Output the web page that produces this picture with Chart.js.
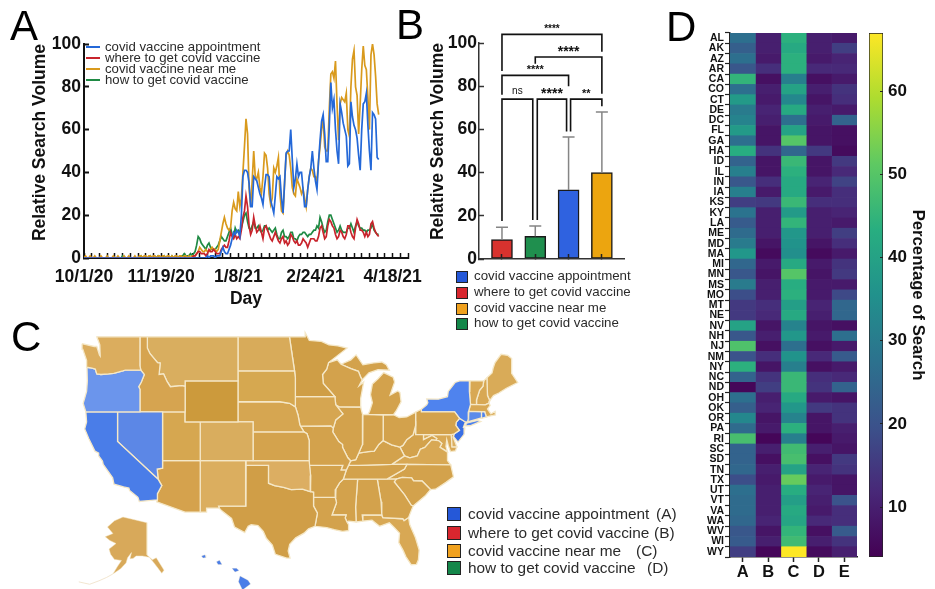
<!DOCTYPE html>
<html lang="en">
<head>
<meta charset="UTF-8">
<title>Covid vaccine search volume</title>
<script src="https://cdn.jsdelivr.net/npm/chart.js@4/dist/chart.umd.js"></script>
<style>
  body { margin: 0; background: #fff; font-family: "Liberation Sans", Arial, sans-serif; }
  #page { position: relative; width: 935px; height: 589px; overflow: hidden; }
  canvas { position: absolute; }
  .letter { position: absolute; font-size: 42px; line-height: 42px; color: #000; }
  .txt { position: absolute; white-space: nowrap; color: #2b2b2b; line-height: 14px; }
  .sw { position: absolute; border: 1px solid #222; box-sizing: border-box; }
  .ln { position: absolute; height: 2px; }
</style>
</head>
<body>
<div id="page">
  <canvas id="chartA" width="430" height="290" style="left:0;top:20px"></canvas>
  <canvas id="chartB" width="215" height="255" style="left:420px;top:10px"></canvas>
  <canvas id="chartC" width="560" height="269" style="left:0;top:320px"></canvas>
  <canvas id="chartD" width="195" height="560" style="left:670px;top:20px"></canvas>
  <canvas id="chartBar" width="75" height="560" style="left:860px;top:20px"></canvas>

  <div class="letter" style="left:10px;top:5px">A</div>
  <div class="letter" style="left:396px;top:4px">B</div>
  <div class="letter" style="left:11px;top:316px">C</div>
  <div class="letter" style="left:666px;top:6px">D</div>

  <div id="legends"></div>
</div>

<script>
// Panel A: daily relative search volume, one value per day from 10/1/20
const blueSeries = [
  0,0,0,0,0,0,0,0,0,0, 0,0,0,0,0,0,0,0,0,0, 0,0,0,0,0,0,0,0,0,0, 0,0,0,0,0,0,0,0,0,0,
  0,0,0,0,0,0,0,0,0,0, 0,0,0,0,0,0,0,0,0,0, 0,0,0,0,0,0,0,0,0,0, 0,0,0,0,0,0,0,0,0,0,
  1,0,1,1,1,0,1,1,1,3, 5,3,2,2,4,6,9,12,11,13, 12,10,20,38,41,41,40,35,24,24,
  38,37,36,33,30,28,25,33,39,39, 38,27,24,21,29,38,37,38,28,21,
  35,49,50,50,60,46,33,37,44,38, 40,40,32,24,24,32,38,42,50,42,
  36,32,45,55,64,67,58,45,45,62, 82,70,74,60,50,44,72,68,63,60,
  57,43,44,73,66,62,60,56,48,41, 60,72,73,77,62,50,41,68,67,65, 47,46];
const redSeries = [
  0,0,0,0,0,0,0,0,0,0, 0,0,0,0,0,0,0,0,0,0, 0,0,0,0,0,0,0,0,0,0, 0,0,0,0,0,0,0,0,0,0,
  0,0,0,0,0,0,0,0,0,0, 0,0,0,0,0,0,0,0,0,0, 0,0,0,0,0,0,0,0,0,0, 0,1,1,2,3,3,2,2,2,1,
  2,4,3,3,4,3,2,2,2,4, 5,6,5,5,8,12,10,9,11,9, 10,9,13,19,22,29,24,15,11,13,
  19,15,12,13,15,12,9,14,15,13, 11,9,8,10,12,10,8,7,9,10,
  7,8,6,7,11,10,8,7,8,6, 6,7,9,8,7,5,7,9,9,9,
  8,8,10,14,15,12,9,10,15,18, 17,15,14,11,9,10,13,12,10,9,
  11,15,15,12,10,9,14,18,16,13, 13,12,10,12,10,11,16,17,14,12, 11,10];
const orangeSeries = [
  0,1,0,0,1,0,0,1,0,0, 0,1,0,0,0,1,0,0,0,1, 0,0,1,0,0,0,1,0,0,1, 0,0,0,1,0,0,1,1,0,1,
  1,0,1,1,0,1,1,0,1,1, 0,1,1,0,1,1,0,1,0,1, 1,0,1,1,0,1,1,0,1,0, 1,1,1,2,3,5,4,3,3,4,
  3,3,4,5,4,4,3,4,8,12, 16,19,16,14,13,14,22,26,23,22, 31,24,28,40,52,65,58,33,24,36,
  50,38,37,40,33,30,38,49,48,42, 30,25,28,42,40,43,47,30,22,21,
  35,48,50,48,42,33,30,29,37,35, 33,30,32,28,24,32,38,42,41,38,
  38,36,45,52,60,65,52,50,50,70, 86,87,84,92,72,55,72,75,74,73,
  77,60,57,80,93,97,80,76,58,72, 88,99,90,88,75,60,95,100,95,85, 72,67];
const greenSeries = [
  0,0,0,0,0,0,0,0,0,0, 0,0,0,0,0,0,0,0,0,0, 0,0,0,0,0,1,0,0,0,0, 0,0,0,0,0,0,0,1,0,0,
  0,0,0,1,0,0,0,0,1,0, 0,0,1,0,0,0,0,1,0,0, 0,0,1,1,1,2,1,1,1,2, 1,2,3,6,10,9,7,6,5,4,
  6,7,5,4,4,4,5,6,8,10, 9,8,8,10,12,14,11,10,14,12, 13,12,14,17,20,21,17,14,13,15,
  17,14,14,15,13,12,13,15,15,13, 14,13,12,13,14,11,9,9,12,13,
  10,10,9,10,12,12,9,9,8,10, 11,11,12,12,11,10,11,11,12,13,
  13,15,14,19,17,14,12,13,17,20, 20,18,16,14,12,13,15,13,12,12,
  12,14,14,16,14,12,15,17,15,14, 14,13,13,12,13,13,14,16,13,12, 11,11];
const dayLabels = { 0: '10/1/20', 50: '11/19/20', 100: '1/8/21', 150: '2/24/21', 200: '4/18/21' };
const seriesNames = ['covid vaccine appointment', 'where to get covid vaccine', 'covid vaccine near me', 'how to get covid vaccine'];

// Panel B: bars, upper error and significance brackets
const barValues = [9, 10.5, 32, 40];
const barErrors = [14.7, 15.3, 56.5, 68];
// from bar, to bar, level, left drop, right drop, label
const brackets = [
  [0, 3, 104, 87, 96, '****'],
  [1, 3, 93.5, 90.4, 76.5, '****'],
  [0, 2, 85, 76, 80, '****'],
  [0, 1, 74, 17.6, 18, 'ns'],
  [1, 2, 74, 18, 59, '****'],
  [2, 3, 74, 59, 70.7, '**']
];

// Panel C: state outlines as lon/lat
const WA = [[-124.7,48.4],[-123.1,48.15],[-122.75,48.15],[-122.4,47.4],[-122.3,47.3],[-122.35,48.3],[-122.75,49],[-117.03,49],[-117.04,46.42],[-116.92,46],[-118.98,46],[-119.3,45.93],[-120.5,45.7],[-121.2,45.65],[-122.2,45.6],[-122.75,45.65],[-122.95,46.1],[-123.4,46.2],[-124.05,46.27],[-124.1,46.9],[-124.6,47.9]];
const OR = [[-124.05,46.27],[-123.4,46.2],[-122.95,46.1],[-122.75,45.65],[-122.2,45.6],[-121.2,45.65],[-120.5,45.7],[-119.3,45.93],[-118.98,46],[-116.92,46],[-116.46,45.6],[-116.85,44.9],[-117.2,44.45],[-117.03,44.2],[-117.03,42],[-124.2,42],[-124.55,42.84],[-124.1,44],[-124,45]];
const CA = [[-124.2,42],[-120,42],[-120,39],[-114.63,35],[-114.14,34.3],[-114.72,33.4],[-114.72,32.72],[-117.12,32.53],[-117.3,33],[-118.4,33.74],[-118.5,34.03],[-119.2,34.15],[-120.47,34.45],[-120.65,35.15],[-121.9,36.6],[-122,36.95],[-122.5,37.5],[-122.5,37.8],[-123,38],[-123.8,39.3],[-124.35,40.3],[-124.1,41]];
const NV = [[-120,42],[-114.04,42],[-114.04,36.2],[-114.75,36.1],[-114.63,35],[-120,39]];
const ID = [[-117.03,49],[-116.05,49],[-116.05,48],[-115.7,47.5],[-114.7,46.7],[-114.35,46.65],[-114.5,45.6],[-113.9,45.65],[-113.45,44.95],[-113,44.45],[-111.5,44.55],[-111.05,44.48],[-111.05,42],[-117.03,42],[-117.03,44.2],[-117.2,44.45],[-116.85,44.9],[-116.46,45.6],[-116.92,46],[-117.04,46.42]];
const MT = [[-116.05,49],[-104.05,49],[-104.05,45],[-111.05,45],[-111.05,44.48],[-111.5,44.55],[-113,44.45],[-113.45,44.95],[-113.9,45.65],[-114.5,45.6],[-114.35,46.65],[-114.7,46.7],[-115.7,47.5],[-116.05,48]];
const WY = [[-111.05,45],[-104.05,45],[-104.05,41],[-111.05,41]];
const UT = [[-114.04,42],[-111.05,42],[-111.05,41],[-109.05,41],[-109.05,37],[-114.04,37]];
const CO = [[-109.05,41],[-102.05,41],[-102.05,37],[-109.05,37]];
const AZ = [[-114.04,37],[-109.05,37],[-109.05,31.33],[-111.07,31.33],[-114.81,32.5],[-114.72,32.72],[-114.72,33.4],[-114.14,34.3],[-114.63,35],[-114.75,36.1],[-114.04,36.2]];
const NM = [[-109.05,37],[-103,37],[-103.04,32],[-106.62,32],[-106.53,31.78],[-108.21,31.78],[-108.21,31.33],[-109.05,31.33]];
const ND = [[-104.05,49],[-97.23,49],[-96.56,45.94],[-104.05,45.94]];
const SD = [[-104.05,45.94],[-96.56,45.94],[-96.45,45.3],[-96.45,43.5],[-96.44,42.5],[-97.2,42.85],[-98.5,43],[-104.05,43]];
const NE = [[-104.05,43],[-98.5,43],[-97.2,42.85],[-96.44,42.5],[-96.1,41.7],[-95.85,40.7],[-95.31,40],[-102.05,40],[-102.05,41],[-104.05,41]];
const KS = [[-102.05,40],[-95.31,40],[-94.9,39.8],[-94.61,39.11],[-94.62,37],[-102.04,37]];
const OK = [[-103,37],[-94.62,37],[-94.43,35.4],[-94.48,33.64],[-95.5,33.9],[-97,33.85],[-98,34.1],[-99.2,34.3],[-100,34.56],[-100,36.5],[-103,36.5]];
const TX = [[-106.62,32],[-103.04,32],[-103,36.5],[-100,36.5],[-100,34.56],[-99.2,34.3],[-98,34.1],[-97,33.85],[-95.5,33.9],[-94.48,33.64],[-94.04,33.55],[-94.04,32],[-93.53,31.2],[-93.85,29.7],[-94.7,29.4],[-95.3,28.9],[-96.4,28.35],[-97.2,27.6],[-97.4,26.8],[-97.15,25.96],[-97.6,25.95],[-99.1,26.4],[-99.5,27.5],[-100.3,28.3],[-100.7,29.1],[-101.4,29.77],[-102.3,29.88],[-102.7,29.7],[-103.15,28.97],[-104.5,29.6],[-104.9,30.6],[-106.2,31.47],[-106.53,31.78]];
const MN = [[-97.23,49],[-95.15,49],[-95.15,49.38],[-94.6,48.7],[-93,48.6],[-92,48.3],[-90.8,48.2],[-89.6,48],[-92.05,46.7],[-92.3,46.1],[-92.85,45.6],[-92.75,44.75],[-91.22,43.5],[-96.45,43.5],[-96.45,45.3],[-96.56,45.94]];
const IA = [[-96.45,43.5],[-91.22,43.5],[-91.1,42.7],[-90.15,41.8],[-91.1,41.2],[-91.42,40.38],[-91.73,40.61],[-95.77,40.58],[-95.85,40.7],[-96.1,41.7],[-96.44,42.5]];
const MO = [[-95.77,40.58],[-91.73,40.61],[-91.42,40.38],[-91.5,40],[-90.7,39],[-90.2,38.7],[-90.2,38.4],[-89.5,37.3],[-89.13,36.98],[-89.4,36.5],[-89.7,36],[-90.37,36],[-90.15,36.5],[-94.62,36.5],[-94.61,39.11],[-94.9,39.8],[-95.31,40]];
const AR = [[-94.62,36.5],[-90.15,36.5],[-90.37,36],[-89.7,36],[-90.1,35],[-90.6,34.6],[-91.1,33.9],[-91.17,33],[-94.04,33.02],[-94.04,33.55],[-94.48,33.64],[-94.43,35.4]];
const LA = [[-94.04,33.02],[-91.17,33],[-91,32.4],[-91.6,31],[-89.73,31],[-89.85,30.65],[-89.6,30.18],[-89.4,29.9],[-89.4,29.2],[-90.2,29.1],[-91.3,29.3],[-92.3,29.55],[-93.85,29.7],[-93.53,31.2],[-94.04,32]];
const WI = [[-92.05,46.7],[-90.9,46.95],[-90.4,46.55],[-89.1,46.14],[-88.1,45.9],[-87.8,45.35],[-87.6,45.1],[-88,44.55],[-87.4,44.9],[-87.55,44.3],[-87.8,43.3],[-87.8,42.49],[-90.64,42.51],[-91.1,42.7],[-91.22,43.5],[-92.75,44.75],[-92.85,45.6],[-92.3,46.1]];
const IL = [[-90.64,42.51],[-87.8,42.49],[-87.53,41.7],[-87.53,39.35],[-87.6,38.7],[-88.05,37.8],[-88.45,37.1],[-89.13,36.98],[-89.5,37.3],[-90.2,38.4],[-90.2,38.7],[-90.7,39],[-91.5,40],[-91.42,40.38],[-91.1,41.2],[-90.15,41.8],[-91.1,42.7]];
const MI_LOWER = [[-86.82,41.76],[-84.8,41.72],[-83.45,41.73],[-83.1,42.1],[-82.45,43],[-82.6,43.9],[-82.9,44.05],[-83.9,43.65],[-83.3,44.9],[-83.5,45.35],[-84.75,45.78],[-85.5,45.2],[-86.25,44.7],[-86.5,43.7],[-86.25,42.9],[-86.6,42.1]];
const MI_UPPER = [[-90.4,46.55],[-89.1,46.95],[-88.4,47.4],[-87.5,46.5],[-86.1,46.67],[-85,46.75],[-84.4,46.5],[-84,46],[-85.5,46.05],[-86.7,45.75],[-87.6,45.1],[-87.8,45.35],[-88.1,45.9],[-89.1,46.14]];
const IN = [[-87.53,41.7],[-87.2,41.76],[-84.8,41.72],[-84.82,39.1],[-85.4,38.7],[-86,38],[-86.8,37.95],[-88.05,37.8],[-87.6,38.7],[-87.53,39.35]];
const OH = [[-84.8,41.72],[-83.45,41.73],[-82.7,41.45],[-81.7,41.5],[-80.52,41.98],[-80.52,40.64],[-80.85,39.7],[-81.7,39.2],[-82.2,38.6],[-82.6,38.42],[-83.7,38.65],[-84.82,39.1]];
const KY = [[-89.4,36.5],[-89.13,36.98],[-88.45,37.1],[-88.05,37.8],[-86.8,37.95],[-86,38],[-85.4,38.7],[-84.82,39.1],[-83.7,38.65],[-82.6,38.42],[-82,37.5],[-83.68,36.6],[-88.07,36.5]];
const TN = [[-90.1,35],[-89.7,36],[-89.4,36.5],[-88.07,36.5],[-83.68,36.6],[-81.68,36.59],[-82,36.1],[-84.32,35]];
const MS = [[-91.17,33],[-91.1,33.9],[-90.6,34.6],[-90.1,35],[-88.2,35],[-88.47,31.9],[-88.4,30.2],[-89.4,30.3],[-89.6,30.18],[-89.85,30.65],[-89.73,31],[-91.6,31],[-91,32.4]];
const AL = [[-88.2,35],[-85.6,35],[-85.1,32.5],[-85,31],[-87.6,31],[-87.5,30.3],[-88.4,30.2],[-88.47,31.9]];
const GA = [[-85.6,35],[-83.1,35],[-83.35,34.7],[-82,33.3],[-81.1,32.1],[-80.85,32.03],[-81.45,30.72],[-82.05,30.36],[-82.2,30.57],[-84.86,30.7],[-85,31],[-85.1,32.5]];
const FL = [[-87.6,31],[-85,31],[-84.86,30.7],[-82.2,30.57],[-82.05,30.36],[-81.45,30.72],[-81.3,29.9],[-80.55,28.4],[-80.05,26.9],[-80.15,25.75],[-80.4,25.2],[-81.1,25.15],[-81.8,26.1],[-82.2,26.9],[-82.75,27.8],[-82.65,28.9],[-83.4,29.6],[-84,30.1],[-85.3,29.7],[-86.3,30.4],[-87.5,30.3]];
const SC = [[-83.1,35],[-82.3,35.2],[-81.05,35.15],[-80.8,34.82],[-79.67,34.8],[-78.55,33.86],[-79.2,33.2],[-80.85,32.03],[-81.1,32.1],[-82,33.3],[-83.35,34.7]];
const NC = [[-84.32,35],[-82,36.1],[-81.68,36.59],[-75.87,36.55],[-75.5,35.25],[-76.5,34.65],[-77.9,33.9],[-78.55,33.86],[-79.67,34.8],[-80.8,34.82],[-81.05,35.15],[-82.3,35.2],[-83.1,35]];
const VA = [[-83.68,36.6],[-82,37.5],[-81.3,37.3],[-80.3,37.5],[-79.9,38.2],[-79.3,38.4],[-78.4,39.17],[-77.83,39.13],[-77.5,39.1],[-77.05,38.8],[-77.3,38.4],[-76.3,37.9],[-76.3,37],[-75.87,36.55],[-81.68,36.59]];
const WV = [[-82.6,38.42],[-82.2,38.6],[-81.7,39.2],[-80.85,39.7],[-80.52,40.64],[-80.52,39.72],[-79.48,39.72],[-79.48,39.2],[-78.35,39.63],[-77.72,39.32],[-77.83,39.13],[-78.4,39.17],[-79.3,38.4],[-79.9,38.2],[-80.3,37.5],[-81.3,37.3],[-82,37.5]];
const PA = [[-80.52,41.98],[-79.76,42.27],[-79.76,42],[-75.35,42],[-74.7,41.36],[-75.13,40.98],[-75.2,40.65],[-74.72,40.15],[-75.4,39.8],[-75.79,39.72],[-80.52,39.72],[-80.52,40.64]];
const NY = [[-79.76,42.27],[-79.05,42.7],[-78.9,42.9],[-79.05,43.27],[-77.5,43.25],[-76.3,43.5],[-76.2,44],[-75.3,44.85],[-74.7,45],[-73.34,45],[-73.4,44],[-73.25,42.75],[-73.5,42.05],[-73.55,41.3],[-73.65,41],[-73.92,41],[-74.7,41.36],[-75.35,42],[-79.76,42]];
const LONG_ISLAND = [[-74,40.6],[-73.7,40.9],[-72.3,41.15],[-71.9,41.05],[-73.3,40.62]];
const NJ = [[-74.7,41.36],[-73.92,41],[-74.2,40.45],[-74,40.4],[-74.1,39.75],[-74.9,38.95],[-75.5,39.5],[-75.4,39.8],[-74.72,40.15],[-75.2,40.65],[-75.13,40.98]];
const DE = [[-75.79,39.72],[-75.4,39.8],[-75.55,39.45],[-75.05,38.45],[-75.7,38.46]];
const MD = [[-79.48,39.72],[-75.79,39.72],[-75.7,38.46],[-75.05,38.45],[-75.25,38.03],[-75.9,37.95],[-76.2,38.6],[-76.4,39.2],[-76.5,38.5],[-76.3,37.95],[-77.3,38.4],[-77.05,38.8],[-77.5,39.1],[-77.83,39.13],[-77.72,39.32],[-78.35,39.63],[-79.48,39.2]];
const CT = [[-73.5,42.05],[-71.8,42.02],[-71.8,41.4],[-73.65,41],[-73.55,41.3]];
const RI = [[-71.8,42.02],[-71.38,42.02],[-71.15,41.5],[-71.8,41.35]];
const MA = [[-73.5,42.05],[-73.25,42.75],[-71.3,42.7],[-70.8,42.87],[-70.65,42.65],[-71,42.3],[-70.55,41.8],[-70,42.05],[-69.95,41.7],[-70.6,41.6],[-71.15,41.5],[-71.38,42.02]];
const VT = [[-73.34,45],[-71.5,45],[-71.6,44.5],[-72.05,44.1],[-72.45,43.2],[-72.46,42.73],[-73.25,42.75],[-73.4,44]];
const NH = [[-71.5,45],[-71.08,45.3],[-71,43.6],[-70.7,43.1],[-70.8,42.87],[-71.3,42.7],[-72.46,42.73],[-72.45,43.2],[-72.05,44.1],[-71.6,44.5]];
const ME = [[-71.08,45.3],[-70.4,45.75],[-70.25,46.2],[-70,46.7],[-69.2,47.45],[-68.3,47.35],[-67.8,47.07],[-67.8,45.7],[-67,44.85],[-68.5,44.3],[-69.5,43.85],[-70.2,43.6],[-70.7,43.1],[-71,43.6]];
const AK = [[-141,69.65],[-141,60.3],[-137.5,58.9],[-135,59.5],[-130,55.9],[-131.5,55],[-134,56.5],[-136.5,58],[-139.5,59.6],[-144,60],[-148,60],[-150,59.3],[-152,59.2],[-151,61],[-153.5,59.5],[-154.5,58],[-158,56.3],[-163,54.8],[-160,57],[-157.5,58.7],[-162,59],[-164.5,60.5],[-165.5,62],[-161,63.6],[-165,64.5],[-168,65.6],[-163,66.5],[-166.5,68.4],[-162,70.2],[-156.5,71.3],[-149,70.5]];
const ALEUTIANS = [[-163,54.8],[-167,53.8],[-172,52.8],[-178,51.8],[-185,52.5]];
const HI_BIG = [[-155.9,20.25],[-155.1,19.85],[-154.85,19.5],[-155.65,18.95],[-156.05,19.7]];
const HI_MAUI = [[-156.7,20.95],[-156.25,20.95],[-156,20.75],[-156.4,20.6]];
const HI_OAHU = [[-158.25,21.55],[-157.95,21.7],[-157.7,21.3],[-158.1,21.3]];
const HI_KAUAI = [[-159.75,22.1],[-159.4,22.2],[-159.3,21.95],[-159.6,21.9]];

// Panel D: percentage of search by state for columns A to E
const stateCodes = ['AL','AK','AZ','AR','CA','CO','CT','DE','DC','FL','GA','HA','ID','IL','IN','IA','KS','KY','LA','ME','MD','MA','MI','MN','MS','MO','MT','NE','NV','NH','NJ','NM','NY','NC','ND','OH','OK','OR','PA','RI','SC','SD','TN','TX','UT','VT','VA','WA','WV','WI','WY'];
const columnNames = ['A','B','C','D','E'];
const colA = [27,23,27,21,45,27,38,30,32,38,27,43,24,31,21,31,16,28,22,26,30,37,25,21,30,19,15,15,40,21,49,20,44,24,5,27,23,33,26,48,24,24,25,19,27,26,26,25,21,22,16];
const colB = [10,10,9,13,7,10,9,11,10,8,8,14,8,8,13,9,15,10,10,10,8,6,9,8,10,10,13,12,8,10,7,13,8,14,16,10,11,8,9,5,10,7,10,9,10,10,10,11,8,10,5];
const colC = [44,42,44,44,31,40,33,42,27,40,50,25,46,44,42,42,46,38,45,37,36,35,42,50,43,44,39,42,32,37,27,36,31,46,46,42,37,32,44,31,47,48,40,52,43,39,42,41,45,47,67];
const colD = [10,10,9,12,7,10,8,10,9,8,8,15,8,8,11,9,13,10,10,10,8,6,9,8,9,9,11,10,8,9,7,12,7,13,14,9,15,8,8,5,10,7,11,9,11,10,9,12,7,10,6];
const colE = [9,16,11,12,9,14,13,9,24,7,7,6,15,12,17,13,13,11,9,16,13,9,14,15,9,18,25,25,7,27,9,22,9,12,24,8,14,14,10,9,8,15,14,8,8,20,13,13,22,14,10];
const colorMin = 4;
const colorMax = 67;
const colorTicks = [10, 20, 30, 40, 50, 60];

const FONT = '"Liberation Sans", Arial, sans-serif';
const INK = '#111';
const BLUE = '#2468d8', RED = '#c8242c', ORANGE = '#d99a1d', GREEN = '#1f8a44';
Chart.defaults.font.family = FONT;
Chart.defaults.color = INK;
Chart.defaults.animation = false;
Chart.defaults.responsive = false;
Chart.defaults.layout.autoPadding = false;
Chart.defaults.plugins.legend.display = false;
Chart.defaults.plugins.tooltip.enabled = false;

// pin an axis to a fixed thickness and stop its labels from shrinking the plot
function pinAxis(s, prop, size) {
  s[prop] = size;
  s.paddingTop = s.paddingBottom = s.paddingLeft = s.paddingRight = 0;
}

const toPoints = arr => arr.map((v, i) => ({ x: i, y: v }));
const lineSet = (data, color) => ({ data: toPoints(data), borderColor: color, borderWidth: 1.7, pointRadius: 0, tension: 0, fill: false });

// ---- panel A
new Chart(document.getElementById('chartA'), {
  type: 'scatter',
  data: { datasets: [lineSet(blueSeries, BLUE), lineSet(redSeries, RED), lineSet(orangeSeries, ORANGE), lineSet(greenSeries, GREEN)].map(d => ({ ...d, showLine: true })) },
  options: {
    layout: { padding: { top: 24, right: 22 } },
    scales: {
      x: {
        type: 'linear', min: 0, max: 210,
        afterFit: s => pinAxis(s, 'height', 52),
        afterBuildTicks: s => { s.ticks = []; for (let d = 0; d <= 210; d += 5) s.ticks.push({ value: d }); },
        grid: { drawOnChartArea: false, tickLength: -5, tickWidth: 1.5, tickColor: INK },
        border: { width: 2, color: INK },
        ticks: { autoSkip: false, maxRotation: 0, padding: 14, font: { size: 17.5, weight: 'bold' }, callback: v => dayLabels[v] || '' },
        title: { display: true, text: 'Day', font: { size: 17.5, weight: 'bold' }, padding: { top: 6, bottom: 0 } }
      },
      y: {
        min: 0, max: 100,
        afterFit: s => pinAxis(s, 'width', 84),
        grid: { drawOnChartArea: false, tickLength: -5, tickWidth: 2, tickColor: INK },
        border: { width: 2, color: INK },
        ticks: { stepSize: 20, padding: 8, font: { size: 17.5, weight: 'bold' } },
        title: { display: true, text: 'Relative Search Volume', align: 'end', font: { size: 17.5, weight: 'bold' }, padding: { top: 30, bottom: 0 } }
      }
    }
  }
});

// ---- panel B
const barOffset = 0.69;
const barLabelSizes = { 0: 10, 1: 14, 2: 11, 3: 10, 4: 14, 5: 11 };
const barExtras = {
  id: 'barExtras',
  afterDatasetsDraw(chart) {
    const { ctx, scales: { x, y } } = chart;
    const cx = i => x.getPixelForValue(i + barOffset);
    ctx.save();
    ctx.strokeStyle = '#858585';
    ctx.lineWidth = 1.5;
    barErrors.forEach((err, i) => {
      ctx.beginPath();
      ctx.moveTo(cx(i), y.getPixelForValue(barValues[i]));
      ctx.lineTo(cx(i), y.getPixelForValue(err));
      ctx.moveTo(cx(i) - 6, y.getPixelForValue(err));
      ctx.lineTo(cx(i) + 6, y.getPixelForValue(err));
      ctx.stroke();
    });
    ctx.strokeStyle = '#111';
    ctx.fillStyle = '#111';
    ctx.lineWidth = 1.6;
    ctx.textAlign = 'center';
    ctx.textBaseline = 'middle';
    brackets.forEach((b, i) => {
      // the three low brackets sit a little apart where they share a bar
      const xa = cx(b[0]) + (i === 4 ? 2 : i === 5 ? 2 : 0);
      const xb = cx(b[1]) + (i === 3 ? -2.5 : i === 4 ? -2 : 0);
      const ly = y.getPixelForValue(b[2]);
      ctx.beginPath();
      ctx.moveTo(xa, y.getPixelForValue(b[3]));
      ctx.lineTo(xa, ly);
      ctx.lineTo(xb, ly);
      ctx.lineTo(xb, y.getPixelForValue(b[4]));
      ctx.stroke();
      ctx.font = (b[5] === 'ns' ? '' : 'bold ') + barLabelSizes[i] + 'px ' + FONT;
      ctx.fillText(b[5], (xa + xb) / 2, ly - (b[5] === 'ns' ? 8 : 5));
    });
    ctx.restore();
  }
};
new Chart(document.getElementById('chartB'), {
  type: 'bar',
  data: { datasets: [{
    data: barValues.map((v, i) => ({ x: i + barOffset, y: v })),
    backgroundColor: ['#d8322e', '#1f8f4e', '#2f62e0', '#eca50f'],
    borderColor: '#1a1a1a', borderWidth: 1.5, barThickness: 21, borderSkipped: false
  }] },
  options: {
    layout: { padding: { top: 33, right: 11 } },
    scales: {
      x: {
        type: 'linear', position: 'bottom', offset: false, min: 0, max: 145 / 33.3,
        afterFit: s => pinAxis(s, 'height', 6),
        afterBuildTicks: s => { s.ticks = barValues.map((v, i) => ({ value: i + barOffset })); },
        grid: { offset: false, drawOnChartArea: false, tickLength: -5, tickWidth: 1.5, tickColor: '#222', z: 1 },
        border: { width: 1.5, color: '#333', z: 2 },
        ticks: { display: false }
      },
      y: {
        min: 0, max: 100,
        afterFit: s => pinAxis(s, 'width', 59),
        grid: { drawOnChartArea: false, tickLength: -5, tickWidth: 1.5, tickColor: '#333' },
        border: { width: 1.5, color: '#333' },
        ticks: { stepSize: 20, padding: 7, font: { size: 17.5, weight: 'bold' } },
        title: { display: true, text: 'Relative Search Volume', align: 'end', font: { size: 17.5, weight: 'bold' }, padding: { top: 8, bottom: 0 } }
      }
    }
  },
  plugins: [barExtras]
});

// ---- panel C, Mercator on the 49th-parallel baseline
const mapW = 560, mapH = 269;
const pxPerDeg = 7.55, pxPerUnit = 430;
const lonMin = -135.57, lonMax = lonMin + mapW / pxPerDeg;
const yTop = 1.023, yBottom = yTop - mapH / pxPerUnit;
const merc = lat => Math.asinh(Math.tan(lat * Math.PI / 180));
const project = ([lon, lat]) => ({ x: lon, y: merc(lat) });
const fromPage = (px, py) => ({ x: lonMin + px / pxPerDeg, y: yTop - (py - 320) / pxPerUnit });
const alaskaInset = ([lon, lat]) => fromPage(147 + (lon + 141) * 1.55, 517 + (71.3 - lat) * 3.45);
const hawaiiInset = ([lon, lat]) => fromPage(204 + (lon + 159.5) * 10, 557 + (22 - lat) * 10.8);

const TAN = '#d3a24c';
const mapShapes = [
  [WA,'#dbad5e'],[OR,'#6b95ec'],[CA,'#4a7de8'],[NV,'#5c87e6'],[ID,'#d6a450'],[MT,'#d9ae5f'],[WY,'#cc9a3c'],[UT,'#d6a750'],[CO,'#d9ad5e'],[AZ,'#d5a24d'],[NM,'#dbae5f'],
  [ND,'#d8ab5a'],[SD,'#d6a850'],[NE,'#d6a651'],[KS,'#d4a34d'],[OK,'#dcae62'],[TX,'#d09e47'],[MN,'#cf9e46'],[IA,'#d6a651'],[MO,TAN],[AR,TAN],[LA,TAN],
  [WI,TAN],[IL,TAN],[MI_LOWER,TAN],[MI_UPPER,TAN],[IN,TAN],[OH,TAN],[KY,TAN],[TN,TAN],[MS,TAN],[AL,TAN],[GA,TAN],[FL,'#d8a854'],[SC,TAN],[NC,TAN],[VA,'#d8a854'],[WV,TAN],
  [PA,TAN],[NY,'#4f83ee'],[LONG_ISLAND,'#4f83ee'],[NJ,'#3a6fe4'],[DE,'#dbae5f'],[MD,'#d8a854'],[CT,'#5b8bea'],[RI,'#4f83ee'],[MA,'#d8a854'],[VT,'#d8a854'],[NH,'#d8a854'],[ME,'#d9ab58']
];
const closed = pts => pts.concat([pts[0]]);
const shapeSet = (pts, color, width) => ({ data: pts, showLine: true, fill: 'shape', backgroundColor: color, borderColor: '#f5e8c8', borderWidth: width, pointRadius: 0, tension: 0 });
const mapSets = mapShapes.map(([outline, color]) => shapeSet(closed(outline).map(project), color, 1.3));
mapSets.push(shapeSet(closed(AK).map(alaskaInset), '#d8a95a', 0.5));
mapSets.push({ data: ALEUTIANS.map(alaskaInset), showLine: true, fill: false, borderColor: '#efe0c4', borderWidth: 0.8, pointRadius: 0 });
[HI_BIG, HI_MAUI, HI_OAHU, HI_KAUAI].forEach(o => mapSets.push(shapeSet(closed(o).map(hawaiiInset), '#4a7de8', 0.3)));

new Chart(document.getElementById('chartC'), {
  type: 'scatter',
  data: { datasets: mapSets },
  options: {
    scales: {
      x: { type: 'linear', display: false, min: lonMin, max: lonMax },
      y: { type: 'linear', display: false, min: yBottom, max: yTop }
    }
  }
});

// ---- panel D
const viridisStops = ['#440154','#482878','#3b528b','#2c728e','#21918c','#28ae80','#5ec962','#addc30','#fde725'];
const hexRgb = h => [1, 3, 5].map(i => parseInt(h.substr(i, 2), 16));
function viridis(t) {
  const p = Math.min(Math.max(t, 0), 1) * (viridisStops.length - 1);
  const i = Math.min(Math.floor(p), viridisStops.length - 2);
  const a = hexRgb(viridisStops[i]), b = hexRgb(viridisStops[i + 1]);
  const c = a.map((v, k) => Math.round(v + (b[k] - v) * (p - i)));
  return `rgb(${c[0]},${c[1]},${c[2]})`;
}
const cellColor = v => viridis((v - colorMin) / (colorMax - colorMin));

new Chart(document.getElementById('chartD'), {
  type: 'bar',
  data: {
    labels: stateCodes,
    datasets: [colA, colB, colC, colD, colE].map((col, i) => ({
      label: columnNames[i],
      data: col.map(() => 1),
      backgroundColor: col.map(cellColor),
      borderWidth: 0,
      barPercentage: 1,
      categoryPercentage: 1
    }))
  },
  options: {
    indexAxis: 'y',
    layout: { padding: { top: 13, right: 8 } },
    scales: {
      x: {
        type: 'linear', stacked: true, min: 0, max: 5,
        afterFit: s => pinAxis(s, 'height', 23),
        afterBuildTicks: s => { s.ticks = columnNames.map((n, i) => ({ value: i + 0.5 })); },
        grid: { drawOnChartArea: false, tickLength: 5, tickWidth: 1.5, tickColor: '#222' },
        border: { width: 1.5, color: '#222' },
        ticks: { autoSkip: false, maxRotation: 0, padding: 1, font: { size: 16.5, weight: 'bold' }, callback: v => columnNames[Math.floor(v)] }
      },
      y: {
        stacked: true,
        afterFit: s => pinAxis(s, 'width', 60),
        grid: { drawOnChartArea: false, tickLength: 5, tickWidth: 1.2, tickColor: '#222' },
        border: { width: 1.5, color: '#222' },
        ticks: { autoSkip: false, padding: 1, font: { size: 10.5, weight: 'bold' } }
      }
    }
  }
});

// colour bar next to the heatmap
function barGradient(ctx) {
  const area = ctx.chart.chartArea;
  if (!area) return viridisStops[4];
  const g = ctx.chart.ctx.createLinearGradient(0, area.bottom, 0, area.top);
  viridisStops.forEach((c, i) => g.addColorStop(i / (viridisStops.length - 1), c));
  return g;
}
new Chart(document.getElementById('chartBar'), {
  type: 'bar',
  data: { labels: [''], datasets: [{
    data: [[colorMin, colorMax]],
    backgroundColor: barGradient,
    borderColor: '#222', borderWidth: 1, borderSkipped: false,
    barPercentage: 1, categoryPercentage: 1
  }] },
  options: {
    layout: { padding: { top: 13, left: 9, bottom: 23 } },
    scales: {
      x: { display: false },
      y: {
        position: 'right', min: colorMin, max: colorMax,
        afterFit: s => pinAxis(s, 'width', 52),
        afterBuildTicks: s => { s.ticks = colorTicks.map(v => ({ value: v })); },
        grid: { drawOnChartArea: false, tickLength: -3, tickWidth: 1, tickColor: '#222', z: 1 },
        border: { display: false },
        ticks: { padding: 8, font: { size: 17, weight: 'bold' } },
        title: { display: true, text: 'Percentage of Search', font: { size: 16.7, weight: 'bold' }, padding: { top: 7, bottom: 0 } }
      }
    }
  }
});

// ---- html legends
const legendBox = document.getElementById('legends');
function addText(text, x, y, size) {
  const d = document.createElement('div');
  d.className = 'txt';
  d.textContent = text;
  d.style.cssText = `left:${x}px;top:${y - 7}px;font-size:${size}px`;
  legendBox.appendChild(d);
}
function addSwatch(color, x, y, s) {
  const d = document.createElement('div');
  d.className = 'sw';
  d.style.cssText = `left:${x}px;top:${y}px;width:${s}px;height:${s}px;background:${color}`;
  legendBox.appendChild(d);
}
const lineColors = [BLUE, RED, ORANGE, GREEN];
const swatchColors = ['#2558d8', '#d8262e', '#f0a11e', '#14874a'];
const rowsA = [47, 58, 69, 80];
seriesNames.forEach((name, i) => {
  const l = document.createElement('div');
  l.className = 'ln';
  l.style.cssText = `left:86px;top:${rowsA[i] - 1}px;width:14px;background:${lineColors[i]}`;
  legendBox.appendChild(l);
  addText(name, 105, rowsA[i], 13.2);
});
const rowsB = [276, 292, 308, 323];
seriesNames.forEach((name, i) => {
  addSwatch(swatchColors[i], 456, rowsB[i] - 5.5, 12);
  addText(name, 474, rowsB[i], 13.3);
});
const rowsC = [514, 533, 551, 568];
const suffixes = [['(A)', 656], ['(B)', 654], ['(C)', 636], ['(D)', 647]];
seriesNames.forEach((name, i) => {
  addSwatch(swatchColors[i], 447, rowsC[i] - 7, 14);
  addText(name, 468, rowsC[i], 15.4);
  addText(suffixes[i][0], suffixes[i][1], rowsC[i], 15.4);
});
</script>
</body>
</html>
